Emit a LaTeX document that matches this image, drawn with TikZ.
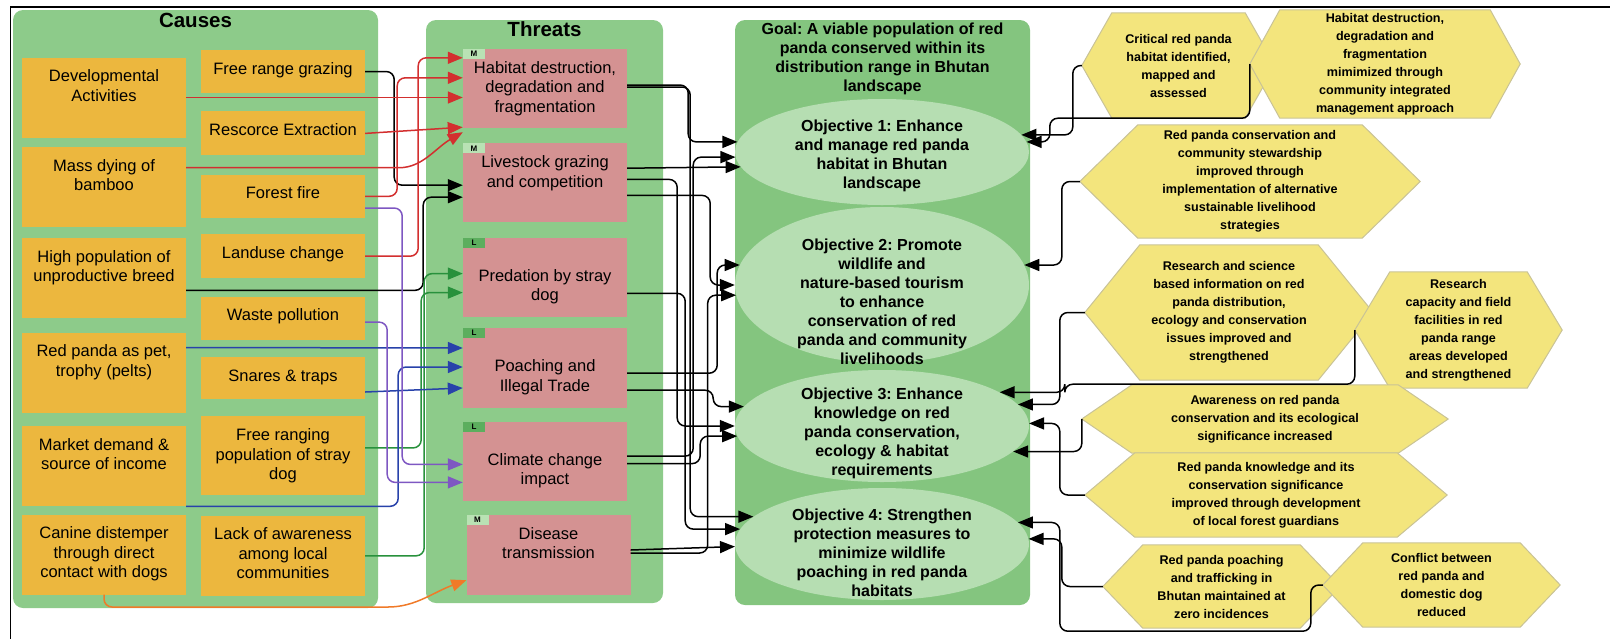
\documentclass[tikz,border=0pt]{standalone}
\usepackage{fontspec}
\setmainfont{Liberation Sans}
\usepackage{xcolor}
\definecolor{colorPanel}{HTML}{8DCB8A}
\definecolor{colorGoal}{HTML}{84C57F}
\definecolor{colorCause}{HTML}{ECB73E}
\definecolor{colorThreat}{HTML}{D49292}
\definecolor{colorObjective}{HTML}{B6DEB2}
\definecolor{colorTagM}{HTML}{B9E2B4}
\definecolor{colorTagL}{HTML}{5CAE5E}
\definecolor{colorResult}{HTML}{F3E57D}
\definecolor{colorResultLine}{HTML}{C9C396}
\definecolor{colorRed}{HTML}{D32F2F}
\definecolor{colorBlue}{HTML}{2842AA}
\definecolor{colorPurple}{HTML}{7E57C2}
\definecolor{colorGreen}{HTML}{28913C}
\definecolor{colorOrange}{HTML}{F07A28}
\usepackage{tikz}
\usetikzlibrary{arrows.meta, shapes.geometric, positioning, calc, backgrounds}
\frenchspacing
\newcommand{\causefont}{\fontsize{16.5}{19.5}\selectfont}
\newcommand{\paneltitlefont}{\fontsize{20.5}{24}\selectfont\bfseries}
\newcommand{\goalfont}{\fontsize{16}{19}\selectfont\bfseries}
\newcommand{\resultfont}{\fontsize{12.6}{18}\selectfont\bfseries}
\newcommand{\tagfont}{\fontsize{8}{9}\selectfont\bfseries}
\newcommand{\boxtxt}[4]{\parbox[c][#2][t]{#1}{\centering\vspace*{#3}\strut#4}}
\newcommand{\ctxt}[2]{\boxtxt{164pt}{#1}{10.5pt}{#2}}
\tikzset{
  panel/.style={fill=colorPanel, rounded corners=10pt, inner sep=0pt},
  cause/.style={fill=colorCause, inner sep=0pt, font=\causefont},
  threat/.style={fill=colorThreat, inner sep=0pt, font=\causefont},
  tag/.style={anchor=north west, inner sep=0pt, minimum width=22pt, minimum height=10pt, font=\tagfont},
  objective/.style={ellipse, fill=colorObjective, inner sep=0pt, minimum width=294pt},
  objtext/.style={font=\goalfont, align=center, inner sep=0pt},
  result/.style={inner sep=0pt, align=center, font=\resultfont},
  resultbg/.style={fill=colorResult, draw=colorResultLine, line width=1pt},
  link/.style={->, line width=1.5pt, rounded corners=8pt}
}

\begin{document}
\begin{tikzpicture}[x=1pt, y=1pt, >={Triangle[length=15pt, width=12pt]}]
\useasboundingbox (0,0) rectangle (1610,-638);
\draw[line width=1.8pt] (10.5,-645) |- (1615,-7);

% panels
\node[panel, font=\paneltitlefont] (causes) at (195.5,-309) {\boxtxt{365pt}{598pt}{0.5pt}{Causes}};
\node[panel, font=\paneltitlefont] (threats) at (544.5,-311.5) {\boxtxt{237pt}{583pt}{0pt}{Threats}};
\node[panel, fill=colorGoal, font=\goalfont] (goal) at (882.5,-312.5) {\boxtxt{295pt}{585pt}{1.5pt}{Goal: A viable population of red\\panda conserved within its\\distribution range in Bhutan\\landscape}};

% causes
\node[cause] (dev) at (104,-97.5) {\ctxt{80pt}{Developmental\\Activities}};
\node[cause, below=9pt of dev] (bamboo) {\ctxt{80pt}{Mass dying of\\bamboo}};
\node[cause, below=11pt of bamboo] (breed) {\ctxt{80pt}{High population of\\unproductive breed}};
\node[cause, below=14pt of breed] (pet) {\ctxt{80pt}{Red panda as pet,\\trophy (pelts)}};
\node[cause, below=13pt of pet] (market) {\ctxt{80pt}{Market demand \&\\source of income}};
\node[cause, below=8pt of market] (canine) {\ctxt{80pt}{Canine distemper\\through direct\\contact with dogs}};
\node[cause] (graze) at (283,-71.5) {\ctxt{43pt}{Free range grazing}};
\node[cause, below=18pt of graze] (extract) {\ctxt{44pt}{Rescorce Extraction}};
\node[cause, below=19pt of extract] (fire) {\ctxt{43pt}{Forest fire}};
\node[cause, below=16pt of fire] (landuse) {\ctxt{44pt}{Landuse change}};
\node[cause, below=18pt of landuse] (waste) {\ctxt{43pt}{Waste pollution}};
\node[cause, below=17pt of waste] (snares) {\ctxt{42pt}{Snares \& traps}};
\node[cause, below=17pt of snares] (stray) {\ctxt{79pt}{Free ranging\\population of stray\\dog}};
\node[cause, below=20pt of stray] (aware) {\ctxt{80pt}{Lack of awareness\\among local\\communities}};

% threats
\node[threat] (hab) at (545,-88.5) {\ctxt{79pt}{Habitat destruction,\\degradation and\\fragmentation}};
\node[threat, below=15pt of hab] (live) {\ctxt{79pt}{Livestock grazing\\and competition}};
\node[threat, below=15pt of live] (pred) {\ctxt{79pt}{\\Predation by stray\\dog}};
\node[threat, below=11pt of pred] (poach) {\ctxt{80pt}{\\Poaching and\\Illegal Trade}};
\node[threat, below=13pt of poach] (climate) {\ctxt{79pt}{\\Climate change\\impact}};
\node[threat, below=14pt of climate, xshift=3.5pt] (disease) {\ctxt{80pt}{Disease\\transmission}};
\node[tag, fill=colorTagM] (taghab) at (hab.north west) {M};
\node[tag, fill=colorTagM] (taglive) at (live.north west) {M};
\node[tag, fill=colorTagL] (tagpred) at (pred.north west) {L};
\node[tag, fill=colorTagL] (tagpoach) at (poach.north west) {L};
\node[tag, fill=colorTagL] (tagclimate) at (climate.north west) {L};
\node[tag, fill=colorTagM] (tagdisease) at (disease.north west) {M};

% objectives
\node[objective, minimum height=106pt] (obj1) at (882,-152) {};
\node[objective, minimum height=156pt] (obj2) at (882,-285) {};
\node[objective, minimum height=112pt] (obj3) at (882,-426) {};
\node[objective, minimum height=112pt] (obj4) at (882,-544) {};
\node[objtext] (obj1t) at (882,-155.5) {Objective 1: Enhance\\and manage red panda\\habitat in Bhutan\\landscape};
\node[objtext] (obj2t) at (882,-302) {Objective 2: Promote\\wildlife and\\nature-based tourism\\to enhance\\conservation of red\\panda and community\\livelihoods};
\node[objtext] (obj3t) at (882,-433) {Objective 3: Enhance\\knowledge on red\\panda conservation,\\ecology \& habitat\\requirements};
\node[objtext] (obj4t) at (882,-553) {Objective 4: Strengthen\\protection measures to\\minimize wildlife\\poaching in red panda\\habitats};

% results
\node[result, minimum width=193pt, minimum height=105pt] (h1) at (1178.5,-65.5) {Critical red panda\\habitat identified,\\mapped and\\assessed};
\node[result, minimum width=270pt, minimum height=108pt] (h2) at (1385,-64) {Habitat destruction,\\degradation and\\fragmentation\\mimimized through\\community integrated\\management approach};
\node[result, minimum width=340pt, minimum height=113pt] (h3) at (1250,-181.5) {Red panda conservation and\\community stewardship\\improved through\\implementation of alternative\\sustainable livelihood\\strategies};
\node[result, minimum width=288pt, minimum height=135pt] (h4) at (1229,-312.5) {Research and science\\based information on red\\panda distribution,\\ecology and conservation\\issues improved and\\strengthened};
\node[result, minimum width=207pt, minimum height=116pt] (h5) at (1458.5,-330) {Research\\capacity and field\\facilities in red\\panda range\\areas developed\\and strengthened};
\node[result, minimum width=366pt, minimum height=68pt] (h6) at (1265,-419) {Awareness on red panda\\conservation and its ecological\\significance increased};
\node[result, minimum width=362pt, minimum height=84pt] (h7) at (1266,-495) {Red panda knowledge and its\\conservation significance\\improved through development\\of local forest guardians};
\node[result, minimum width=237pt, minimum height=83pt] (h8) at (1221.5,-586.5) {Red panda poaching\\and trafficking in\\Bhutan maintained at\\zero incidences};
\node[result, minimum width=237pt, minimum height=84pt] (h9) at (1441.5,-585) {Conflict between\\red panda and\\domestic dog\\reduced};
\begin{scope}[on background layer]
\foreach \hx/\dx in {h1/30, h2/30, h3/58, h4/55, h5/35, h6/50, h7/50, h8/40, h9/40}
  \filldraw[resultbg] (\hx.west) -- ($(\hx.north west)+(\dx,0)$) -- ($(\hx.north east)+(-\dx,0)$) -- (\hx.east) -- ($(\hx.south east)+(-\dx,0)$) -- ($(\hx.south west)+(\dx,0)$) -- cycle;
\end{scope}

% causes to threats
\draw[link] (graze.east) -- ++(29,0) |- ($(live.north west)+(0,-42)$);
\draw[link, draw=colorRed] (dev.east) -- (dev.east -| hab.west);
\draw[link, draw=colorRed] (extract.east) -- ($(hab.south west)+(0,1)$);
\draw[link, draw=colorRed] ($(bamboo.north east)+(0,-21)$) -- ++(205,0) to[out=0, in=210] ($(hab.south west)+(0,-4)$);
\draw[link, draw=colorRed] (fire.east) -- ++(32,0) |- ($(hab.north west)+(0,-29)$);
\draw[link, draw=colorRed] (landuse.east) -- ++(53,0) |- ($(hab.north west)+(0,-9)$);
\draw[link] ($(breed.east)+(0,-12)$) -- ++(237,0) |- ($(live.north west)+(0,-54)$);
\draw[link, draw=colorGreen] ($(stray.east)+(0,8)$) -- ++(56,0) |- ($(pred.north west)+(0,-55)$);
\draw[link, draw=colorGreen] (aware.east) -- ++(59,0) |- ($(pred.north west)+(0,-36)$);
\draw[link, draw=colorBlue] ($(pet.north east)+(0,-15)$) -- ($(poach.north west)+(0,-20)$);
\draw[link, draw=colorBlue] ($(snares.east)+(0,-14)$) -- ($(poach.north west)+(0,-60)$);
\draw[link, draw=colorBlue] (market.south east) -- ++(212,0) |- ($(poach.north west)+(0,-39)$);
\draw[link, draw=colorPurple] ($(fire.south east)+(0,10)$) -- ++(37,0) |- ($(climate.north west)+(0,-43)$);
\draw[link, draw=colorPurple] ($(waste.east)+(0,-4)$) -- ++(22,0) |- ($(climate.north west)+(0,-61)$);
\draw[link, draw=colorOrange] (canine.south) |- ($(aware.south east)+(15,-11)$) to[out=0, in=200] ($(disease.south west)+(0,15)$);

% threats to objectives
\draw[link] ($(live.north east)+(0,-25)$) -- (obj1.186.5);
\draw[link] ($(hab.east)+(0,3.5)$) -- ++(61,0) |- (obj1.176);
\draw[link] ($(climate.east)+(0,5)$) -- ++(66,0) |- (obj1.182);
\draw[link] ($(poach.east)+(0,-5)$) -- ++(90,0) |- (obj2.172);
\draw[link] ($(live.east)+(0,-12.5)$) -- ++(83,0) |- (obj2.180);
\draw[link] ($(disease.east)+(0,2)$) -- ++(77,0) |- (obj2.184.7);
\draw[link] ($(poach.east)+(0,-22)$) -- ++(86,0) |- (obj3.172.6);
\draw[link] ($(live.east)+(0,3.5)$) -- ++(50,0) |- (obj3.180);
\draw[link] ($(climate.east)+(0,-2.5)$) -- ++(73,0) |- (obj3.184.4);
\draw[link] ($(hab.east)+(0,1.5)$) -- ++(63,0) |- (obj4.168.2);
\draw[link] ($(pred.east)+(0,-16)$) -- ++(58,0) |- (obj4.174.4);
\draw[link] ($(disease.east)+(0,5)$) -- (obj4.181.6);

% results to objectives
\draw[link] (h1.west) -- ++(-9,0) |- (obj1.7.9);
\draw[link] (h2.west) |- ($(h1.south west)+(-32,0)$) |- (obj1.4);
\draw[link] (h3.west) -- ++(-18,0) |- (obj2.8);
\draw[link] (h5.west) |- ($(h4.south west)+(-20,-4)$) |- (obj3.16.2);
\draw[link] (h4.west) -- ++(-25,0) |- (obj3.9.24);
\draw[link] (h7.west) -- ++(-25,0) |- (obj3.1.2);
\draw[link] (h6.west) |- (obj3.349.8);
\draw[link] (h8.west) -- ++(-41,0) |- (obj4.2.75);
\draw[link] (h9.west) -- ++(-12,0) |- ($(h8.south west)+(-43,-3)$) |- (obj4.9.24);
\end{tikzpicture}
\end{document}
